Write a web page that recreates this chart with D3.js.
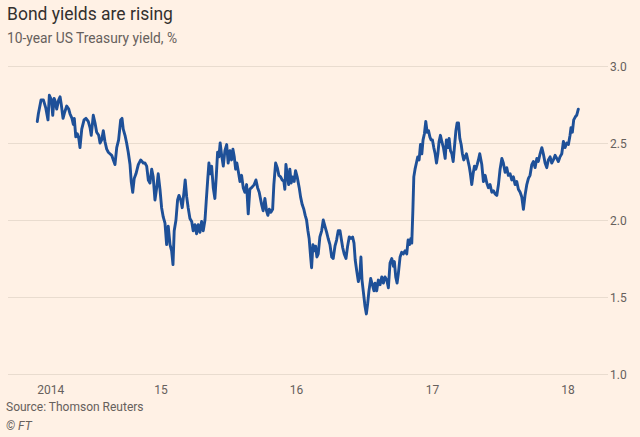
<!DOCTYPE html>
<html>
<head>
<meta charset="utf-8">
<script src="https://cdn.jsdelivr.net/npm/d3@7"></script>
<style>
  html, body { margin: 0; padding: 0; background: #fff1e5; }
  svg { display: block; }
  .title { font-family: Roboto, sans-serif; font-size: 17.5px; fill: #33302e; }
  .subtitle { font-family: Roboto, sans-serif; font-size: 13.8px; fill: #66605c; }
  .tick-label { font-family: Roboto, sans-serif; font-size: 12px; fill: #66605c; }
  .note { font-family: Roboto, sans-serif; font-size: 12px; fill: #66605c; }
</style>
</head>
<body>
<svg id="chart" width="640" height="437"></svg>
<script>
// 10-year US Treasury yield (date as decimal year, %)
const yearPos = [
  2014.088, 2014.096, 2014.116, 2014.133, 2014.150, 2014.167, 2014.177, 2014.192, 2014.202, 2014.212,
  2014.221, 2014.231, 2014.246, 2014.256, 2014.265, 2014.278, 2014.290, 2014.305, 2014.320, 2014.329,
  2014.344, 2014.354, 2014.361, 2014.372, 2014.383, 2014.394, 2014.403, 2014.416, 2014.433, 2014.447,
  2014.464, 2014.477, 2014.486, 2014.501, 2014.514, 2014.526, 2014.541, 2014.551, 2014.563, 2014.575,
  2014.587, 2014.600, 2014.612, 2014.624, 2014.637, 2014.649, 2014.661, 2014.674, 2014.688, 2014.703,
  2014.713, 2014.722, 2014.735, 2014.747, 2014.759, 2014.772, 2014.781, 2014.792, 2014.803, 2014.816,
  2014.833, 2014.851, 2014.870, 2014.882, 2014.895, 2014.907, 2014.919, 2014.932, 2014.943, 2014.956,
  2014.969, 2014.980, 2014.993, 2015.005, 2015.017, 2015.030, 2015.042, 2015.054, 2015.067, 2015.079,
  2015.089, 2015.098, 2015.111, 2015.123, 2015.133, 2015.146, 2015.157, 2015.170, 2015.179, 2015.190,
  2015.201, 2015.214, 2015.227, 2015.238, 2015.251, 2015.263, 2015.275, 2015.288, 2015.300, 2015.312,
  2015.325, 2015.334, 2015.345, 2015.354, 2015.364, 2015.374, 2015.386, 2015.398, 2015.408, 2015.418,
  2015.428, 2015.437, 2015.448, 2015.460, 2015.472, 2015.485, 2015.496, 2015.509, 2015.521, 2015.531,
  2015.541, 2015.551, 2015.560, 2015.570, 2015.583, 2015.595, 2015.607, 2015.619, 2015.632, 2015.644,
  2015.656, 2015.669, 2015.688, 2015.701, 2015.713, 2015.725, 2015.743, 2015.754, 2015.767, 2015.779,
  2015.789, 2015.799, 2015.811, 2015.824, 2015.833, 2015.846, 2015.858, 2015.870, 2015.883, 2015.894,
  2015.907, 2015.914, 2015.922, 2015.931, 2015.942, 2015.951, 2015.961, 2015.971, 2015.983, 2015.993,
  2016.005, 2016.020, 2016.030, 2016.042, 2016.054, 2016.064, 2016.074, 2016.084, 2016.093, 2016.104,
  2016.111, 2016.121, 2016.130, 2016.141, 2016.150, 2016.160, 2016.172, 2016.185, 2016.197, 2016.209,
  2016.222, 2016.233, 2016.246, 2016.259, 2016.270, 2016.283, 2016.295, 2016.307, 2016.320, 2016.329,
  2016.340, 2016.351, 2016.364, 2016.376, 2016.388, 2016.401, 2016.413, 2016.423, 2016.432, 2016.443,
  2016.455, 2016.467, 2016.474, 2016.482, 2016.491, 2016.504, 2016.514, 2016.524, 2016.533, 2016.546,
  2016.558, 2016.570, 2016.578, 2016.590, 2016.602, 2016.615, 2016.627, 2016.639, 2016.651, 2016.664,
  2016.676, 2016.688, 2016.701, 2016.713, 2016.720, 2016.730, 2016.740, 2016.749, 2016.762, 2016.774,
  2016.786, 2016.799, 2016.811, 2016.821, 2016.831, 2016.841, 2016.848, 2016.856, 2016.863, 2016.872,
  2016.882, 2016.892, 2016.902, 2016.912, 2016.922, 2016.931, 2016.941, 2016.951, 2016.961, 2016.971,
  2016.981, 2016.990, 2017.000, 2017.010, 2017.020, 2017.030, 2017.040, 2017.049, 2017.059, 2017.069,
  2017.081, 2017.094, 2017.103, 2017.114, 2017.123, 2017.133, 2017.143, 2017.153, 2017.162, 2017.173,
  2017.182, 2017.192, 2017.202, 2017.212, 2017.221, 2017.231, 2017.241, 2017.251, 2017.261, 2017.271,
  2017.280, 2017.290, 2017.300, 2017.310, 2017.320, 2017.330, 2017.339, 2017.349, 2017.364, 2017.376,
  2017.389, 2017.401, 2017.413, 2017.425, 2017.438, 2017.450, 2017.462, 2017.475, 2017.487, 2017.499,
  2017.512, 2017.523, 2017.536, 2017.548, 2017.560, 2017.573, 2017.585, 2017.597, 2017.610, 2017.622,
  2017.634, 2017.647, 2017.659, 2017.671, 2017.683, 2017.696, 2017.708, 2017.720, 2017.733, 2017.745,
  2017.757, 2017.770, 2017.781, 2017.794, 2017.807, 2017.818, 2017.831, 2017.843, 2017.855, 2017.868,
  2017.880, 2017.892, 2017.905, 2017.917, 2017.929, 2017.941, 2017.954, 2017.966, 2017.978, 2017.991,
  2018.003, 2018.015, 2018.022, 2018.032, 2018.042, 2018.054, 2018.064, 2018.076
]
const yieldPct = [
  2.64, 2.69, 2.78, 2.78, 2.73, 2.65, 2.81, 2.78, 2.68, 2.79,
  2.77, 2.72, 2.78, 2.80, 2.75, 2.66, 2.70, 2.74, 2.72, 2.69,
  2.66, 2.62, 2.66, 2.54, 2.56, 2.53, 2.47, 2.59, 2.65, 2.66,
  2.64, 2.60, 2.55, 2.68, 2.63, 2.57, 2.55, 2.50, 2.52, 2.58,
  2.51, 2.46, 2.44, 2.43, 2.42, 2.39, 2.36, 2.47, 2.52, 2.65,
  2.66, 2.59, 2.55, 2.50, 2.44, 2.36, 2.25, 2.18, 2.27, 2.30,
  2.36, 2.39, 2.37, 2.37, 2.35, 2.26, 2.24, 2.33, 2.28, 2.13,
  2.21, 2.30, 2.20, 2.08, 2.02, 1.98, 1.84, 1.96, 1.84, 1.80,
  1.71, 1.93, 2.00, 2.13, 2.16, 2.13, 2.08, 2.18, 2.26, 2.15,
  2.08, 2.01, 1.99, 1.93, 1.97, 1.91, 1.97, 1.92, 1.99, 1.93,
  2.00, 2.12, 2.26, 2.37, 2.30, 2.35, 2.21, 2.14, 2.28, 2.44,
  2.41, 2.50, 2.42, 2.35, 2.45, 2.49, 2.37, 2.45, 2.39, 2.46,
  2.41, 2.33, 2.37, 2.32, 2.25, 2.29, 2.21, 2.18, 2.23, 2.04,
  2.20, 2.21, 2.23, 2.26, 2.21, 2.18, 2.10, 2.06, 2.14, 2.06,
  2.03, 2.07, 2.05, 2.07, 2.23, 2.37, 2.34, 2.29, 2.28, 2.26,
  2.25, 2.20, 2.36, 2.30, 2.23, 2.33, 2.24, 2.28, 2.25, 2.32,
  2.28, 2.21, 2.15, 2.10, 2.07, 2.03, 2.00, 1.93, 1.88, 1.76,
  1.69, 1.84, 1.80, 1.83, 1.76, 1.78, 1.89, 1.93, 2.00, 1.96,
  1.92, 1.88, 1.84, 1.76, 1.75, 1.83, 1.87, 1.93, 1.93, 1.88,
  1.82, 1.78, 1.75, 1.83, 1.89, 1.88, 1.89, 1.85, 1.74, 1.67,
  1.60, 1.65, 1.76, 1.61, 1.54, 1.44, 1.39, 1.46, 1.54, 1.62,
  1.58, 1.54, 1.59, 1.54, 1.61, 1.58, 1.63, 1.59, 1.63, 1.61,
  1.56, 1.72, 1.75, 1.70, 1.73, 1.63, 1.59, 1.65, 1.76, 1.79,
  1.78, 1.80, 1.78, 1.87, 1.84, 1.88, 1.85, 2.06, 2.28, 2.33,
  2.37, 2.41, 2.39, 2.49, 2.43, 2.52, 2.56, 2.64, 2.57, 2.58,
  2.54, 2.52, 2.52, 2.47, 2.43, 2.37, 2.43, 2.51, 2.55, 2.51,
  2.47, 2.40, 2.52, 2.47, 2.53, 2.45, 2.43, 2.38, 2.47, 2.58,
  2.63, 2.63, 2.53, 2.49, 2.43, 2.39, 2.41, 2.43, 2.39, 2.35,
  2.30, 2.23, 2.30, 2.35, 2.33, 2.36, 2.39, 2.43, 2.36, 2.25,
  2.29, 2.24, 2.21, 2.23, 2.18, 2.19, 2.17, 2.16, 2.23, 2.33,
  2.40, 2.37, 2.31, 2.34, 2.29, 2.30, 2.26, 2.28, 2.23, 2.25,
  2.20, 2.18, 2.15, 2.07, 2.16, 2.23, 2.27, 2.29, 2.36, 2.38,
  2.34, 2.40, 2.38, 2.43, 2.47, 2.43, 2.37, 2.34, 2.39, 2.41,
  2.37, 2.39, 2.42, 2.40, 2.38, 2.41, 2.43, 2.51, 2.47, 2.50,
  2.49, 2.55, 2.60, 2.57, 2.65, 2.67, 2.68, 2.72
]
const xDomainYears = [2013.872, 2018.295]
const xTickYears = [2014, 2015, 2016, 2017, 2018]
const xTickLabels = ['2014', '15', '16', '17', '18']
const yTicks = [1.0, 1.5, 2.0, 2.5, 3.0]
const yDomain = [1.0, 3.0]

function yearToDate (yr) {
  const whole = Math.floor(yr)
  const start = Date.UTC(whole, 0, 1)
  const end = Date.UTC(whole + 1, 0, 1)
  return new Date(start + (yr - whole) * (end - start))
}

const data = yearPos.map((yr, i) => ({ date: yearToDate(yr), value: yieldPct[i] }))

const svg = d3.select('#chart')
const plotLeft = 8
const plotRight = 608
const plotTop = 66
const plotBottom = 374

const x = d3.scaleUtc()
  .domain(xDomainYears.map(yearToDate))
  .range([plotLeft, plotRight])
const y = d3.scaleLinear()
  .domain(yDomain)
  .range([plotBottom, plotTop])

// titles
svg.append('text').attr('class', 'title').attr('x', 7).attr('y', 20).text('Bond yields are rising')
svg.append('text').attr('class', 'subtitle').attr('x', 7).attr('y', 43).text('10-year US Treasury yield, %')

// y gridlines + labels on the right
const yAxis = d3.axisRight(y)
  .tickValues(yTicks)
  .tickSize(plotRight - plotLeft)
  .tickFormat(d3.format('.1f'))
svg.append('g')
  .attr('transform', `translate(${plotLeft},0)`)
  .call(yAxis)
  .call(g => g.select('.domain').remove())
  .call(g => g.selectAll('.tick line').attr('stroke', '#e9dccf').attr('stroke-width', 1))
  .call(g => g.selectAll('.tick text')
    .attr('class', 'tick-label')
    .attr('x', plotRight - plotLeft + 2)
    .attr('dy', '0.34em'))

// x axis labels
const firstDate = data[0].date
svg.append('g')
  .selectAll('text')
  .data(xTickYears)
  .join('text')
  .attr('class', 'tick-label')
  .attr('x', (d, i) => i === 0 ? x(firstDate) : x(yearToDate(d)))
  .attr('y', 393.5)
  .attr('text-anchor', (d, i) => i === 0 ? 'start' : 'middle')
  .text((d, i) => xTickLabels[i])

// the line
const line = d3.line()
  .x(d => x(d.date))
  .y(d => y(d.value))
svg.append('path')
  .datum(data)
  .attr('fill', 'none')
  .attr('stroke', '#1e5098')
  .attr('stroke-width', 2.9)
  .attr('stroke-linejoin', 'round')
  .attr('stroke-linecap', 'round')
  .attr('d', line)

// source
svg.append('text').attr('class', 'note').attr('x', 6).attr('y', 410.5).text('Source: Thomson Reuters')
svg.append('text').attr('class', 'note').attr('x', 6).attr('y', 429.5).style('font-style', 'italic').text('© FT')
</script>
</body>
</html>
